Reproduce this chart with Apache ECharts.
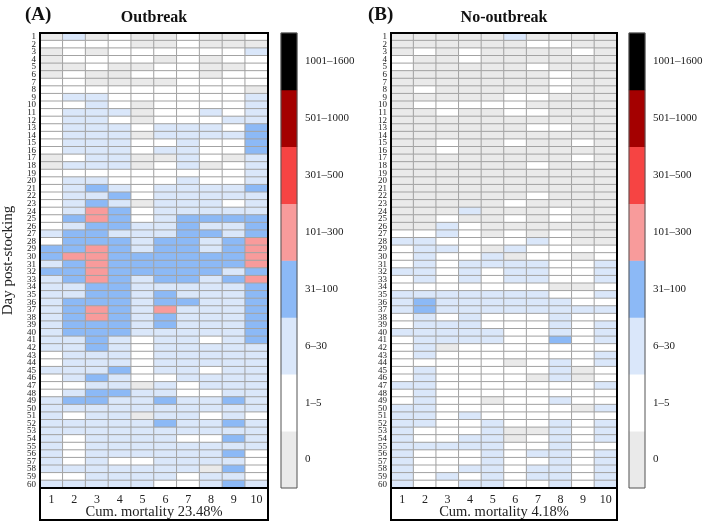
<!DOCTYPE html>
<html>
<head>
<meta charset="utf-8">
<script src="https://cdn.jsdelivr.net/npm/echarts@6/dist/echarts.min.js"></script>
<style>
  html, body { margin: 0; padding: 0; background: #fff; }
  #chart { width: 706px; height: 529px; }
</style>
</head>
<body>
<div id="chart"></div>
<script>
// mortality classes (index = class code used in the grids below)
const classLabels = ['0', '1–5', '6–30', '31–100', '101–300', '301–500', '501–1000', '1001–1600']
const tankLabels = ['1', '2', '3', '4', '5', '6', '7', '8', '9', '10']
const dayLabels = Array.from({ length: 60 }, (_, i) => String(i + 1))

// class code per day (row) and tank (column)
const outbreakClasses = [
  [0,2,0,1,0,0,1,0,0,1], [1,1,1,1,0,0,1,0,0,0], [0,1,0,1,1,1,1,1,1,2], [0,1,1,1,1,0,1,0,1,1],
  [0,0,1,0,0,1,1,0,0,1], [0,1,0,0,1,1,1,0,1,1], [1,1,0,0,0,0,1,1,1,1], [1,1,1,1,1,1,1,1,1,0],
  [1,2,2,1,1,1,1,1,1,2], [1,1,2,1,0,1,1,1,1,2], [1,2,2,2,0,1,1,2,1,2], [1,2,2,1,0,1,1,1,2,2],
  [1,2,2,2,1,2,2,2,1,3], [1,2,2,2,0,2,2,2,2,3], [1,2,2,2,1,1,2,1,1,3], [1,2,2,2,1,2,2,1,1,3],
  [0,1,2,2,0,0,2,1,0,2], [0,2,2,2,0,1,2,0,1,2], [1,1,1,1,1,1,1,1,1,2], [1,2,2,1,1,1,2,1,1,2],
  [1,2,3,2,1,2,2,2,2,3], [1,2,2,3,1,2,2,2,2,2], [1,2,3,2,0,2,2,2,1,2], [1,2,4,3,1,2,2,2,2,2],
  [1,3,4,3,1,2,3,3,3,3], [1,2,3,3,2,2,3,2,2,3], [2,3,3,2,2,2,3,3,2,3], [1,3,3,3,2,3,3,2,3,4],
  [3,3,4,3,2,3,3,2,3,4], [3,4,4,3,3,3,3,3,3,4], [2,3,4,3,3,3,3,3,3,4], [3,3,4,3,3,3,3,3,2,3],
  [2,3,4,3,2,3,3,2,3,4], [2,2,3,3,2,2,2,2,2,3], [2,2,3,3,2,3,2,2,2,3], [2,3,3,3,2,3,3,2,2,3],
  [2,3,4,3,2,4,2,2,2,3], [2,3,4,3,2,3,2,2,2,3], [2,3,3,3,2,3,2,2,2,3], [2,3,3,3,2,2,2,2,2,3],
  [2,2,3,2,1,2,2,1,2,3], [2,2,3,2,1,2,2,2,2,2], [1,2,2,2,1,2,2,2,2,2], [1,2,2,2,1,2,2,2,2,2],
  [2,2,2,3,1,2,2,1,2,2], [1,2,3,2,1,1,2,2,2,2], [1,1,2,2,0,2,1,2,2,2], [1,2,3,3,2,2,1,1,2,2],
  [2,3,3,2,2,3,2,2,3,2], [2,2,2,2,2,2,2,2,2,2], [2,1,2,2,0,2,2,1,2,1], [2,2,2,2,2,3,2,2,3,2],
  [2,2,2,2,2,2,2,2,2,2], [2,1,2,2,2,2,1,1,3,2], [2,1,2,2,2,2,2,2,2,2], [2,1,2,2,2,2,2,2,3,1],
  [2,1,2,1,1,2,2,2,2,1], [2,2,2,2,2,2,2,0,3,1], [1,1,2,2,2,2,1,2,2,1], [2,2,2,2,2,1,1,2,3,2]
]

const noOutbreakClasses = [
  [0,0,0,0,0,2,0,0,0,0], [0,0,0,0,0,0,1,1,0,0], [0,1,0,1,0,0,0,0,1,0], [1,0,0,1,0,0,0,0,0,0],
  [1,0,0,0,0,0,1,0,0,0], [0,0,0,0,0,0,0,1,0,0], [0,0,0,0,0,0,0,1,0,0], [0,1,0,0,0,0,0,1,0,0],
  [0,0,0,0,0,1,1,0,0,0], [0,1,1,1,1,1,0,0,0,0], [0,0,1,0,0,1,1,0,0,0], [0,0,0,0,0,0,0,0,0,0],
  [0,0,0,0,0,0,1,1,0,0], [0,0,0,0,0,0,0,0,0,0], [0,0,1,0,0,1,0,0,1,0], [0,0,1,0,0,0,0,0,0,0],
  [0,0,0,0,0,0,0,0,1,0], [0,0,0,0,0,0,1,0,0,0], [0,0,0,0,0,0,0,0,0,0], [0,0,0,0,0,0,0,0,0,0],
  [0,0,0,0,0,0,0,0,0,0], [0,0,0,0,0,0,1,0,0,0], [0,0,0,0,0,1,0,0,0,0], [0,0,0,2,0,0,0,1,0,0],
  [0,0,1,0,0,1,0,1,0,0], [0,0,2,1,0,0,0,0,0,0], [1,1,2,1,0,1,0,1,0,0], [2,2,1,1,1,1,2,1,0,0],
  [1,2,2,1,0,2,1,1,1,1], [1,2,1,1,2,0,1,1,0,1], [1,2,1,2,2,2,2,1,1,2], [2,2,1,2,1,2,2,1,1,2],
  [1,2,1,2,1,2,2,1,1,2], [1,1,1,1,1,1,1,0,0,1], [2,2,2,2,2,2,2,1,1,2], [2,3,2,2,2,2,2,2,1,1],
  [2,3,2,2,2,2,2,2,2,2], [1,2,1,2,1,1,1,2,1,1], [1,2,2,2,1,1,1,2,1,2], [2,2,2,2,2,1,1,2,1,2],
  [1,2,2,2,2,1,1,3,1,2], [1,2,0,1,1,1,1,1,1,1], [1,2,1,1,1,1,1,1,1,2], [1,1,1,1,1,0,1,2,1,2],
  [1,2,1,1,1,1,1,2,0,1], [1,2,1,1,1,1,0,2,0,1], [2,2,1,1,1,1,1,1,1,2], [1,2,1,1,1,1,1,1,1,1],
  [1,2,1,1,0,1,1,2,1,1], [2,2,1,1,1,1,1,1,0,2], [2,2,1,2,1,1,1,1,1,1], [2,2,1,1,2,1,1,2,1,2],
  [2,1,1,1,2,0,0,2,1,2], [2,1,1,2,2,0,1,2,1,2], [2,2,2,2,2,1,1,2,1,1], [2,1,1,1,2,1,2,2,1,2],
  [2,1,1,1,2,1,1,2,1,2], [2,1,1,2,2,1,2,2,1,2], [2,1,2,1,2,1,2,2,1,2], [2,1,1,2,2,1,1,2,1,2]
]

const classColors = ['#eaeaea', '#ffffff', '#dae7fa', '#8cb9f6', '#f89b9b', '#f64443', '#a40000', '#000000']

const FONT = 'Liberation Serif'
const TOP = 33
const CELL_H = 455
const STRIP_H = 32
const CB_W = 16

const panels = [
  { tag: '(A)', tagX: 25, title: 'Outbreak', left: 40, width: 228, cbLeft: 281,
    mortality: 'Cum. mortality 23.48%', rows: outbreakClasses, yName: 'Day post-stocking' },
  { tag: '(B)', tagX: 368, title: 'No-outbreak', left: 391, width: 226, cbLeft: 629,
    mortality: 'Cum. mortality 4.18%', rows: noOutbreakClasses, yName: '' }
]

const toCells = rows => {
  const out = []
  rows.forEach((row, r) => row.forEach((v, c) => out.push([c, r, v])))
  return out
}

const grid = [], xAxis = [], yAxis = [], series = [], graphic = []

panels.forEach(p => {
  const g = grid.length
  grid.push({ left: p.left, top: TOP, width: p.width, height: CELL_H })
  grid.push({ left: p.cbLeft, top: TOP, width: CB_W, height: CELL_H })

  xAxis.push({
    type: 'category', gridIndex: g, data: tankLabels, position: 'bottom',
    axisLine: { show: false }, axisTick: { show: false },
    axisLabel: { fontFamily: FONT, fontSize: 12, color: '#222', margin: 6 },
    name: p.mortality, nameLocation: 'middle', nameGap: 17, nameMoveOverlap: false,
    nameTextStyle: { fontFamily: FONT, fontSize: 14.5, color: '#222', verticalAlign: 'top' }
  })
  xAxis.push({ type: 'category', gridIndex: g + 1, data: ['k'], show: false })

  const y0 = yAxis.length
  yAxis.push({
    type: 'category', gridIndex: g, data: dayLabels, inverse: true,
    axisLine: { show: false }, axisTick: { show: false },
    axisLabel: { interval: 0, fontFamily: FONT, fontSize: 9, color: '#222', margin: 4 },
    name: p.yName, nameLocation: 'middle', nameGap: 24, nameRotate: 90, nameMoveOverlap: false,
    nameTextStyle: { fontFamily: FONT, fontSize: 15, color: '#222' }
  })
  yAxis.push({
    type: 'category', gridIndex: g + 1, data: classLabels, position: 'right',
    axisLine: { show: false },
    axisTick: { show: false },
    axisLabel: { fontFamily: FONT, fontSize: 11, color: '#222', margin: 8 }
  })
  yAxis.push({
    type: 'category', gridIndex: g + 1, data: classLabels, position: 'left',
    axisLine: { show: false },
    axisTick: { show: true, alignWithLabel: true, inside: true, length: 3, lineStyle: { color: '#333' } },
    axisLabel: { show: false }
  })

  series.push({
    type: 'heatmap', xAxisIndex: g, yAxisIndex: y0, data: toCells(p.rows),
    itemStyle: { borderColor: '#a3a3a3', borderWidth: 1 },
    emphasis: { disabled: true }
  })
  series.push({
    type: 'heatmap', xAxisIndex: g + 1, yAxisIndex: y0 + 1,
    data: classLabels.map((_, k) => [0, k, k]),
    emphasis: { disabled: true }, z: 1
  })

  graphic.push(
    { type: 'text', left: p.tagX, top: 6,
      style: { text: p.tag, font: 'bold 19px "' + FONT + '"', fill: '#111' } },
    { type: 'text', x: p.left + p.width / 2, y: 18,
      style: { text: p.title, font: 'bold 16px "' + FONT + '"', fill: '#111',
               textAlign: 'center', textVerticalAlign: 'middle' } },
    { type: 'rect', z: 100,
      shape: { x: p.left, y: TOP, width: p.width, height: CELL_H },
      style: { fill: 'none', stroke: '#000', lineWidth: 2 } },
    { type: 'rect', z: 100,
      shape: { x: p.left, y: TOP, width: p.width, height: CELL_H + STRIP_H },
      style: { fill: 'none', stroke: '#000', lineWidth: 2 } },
    { type: 'rect', z: 100,
      shape: { x: p.cbLeft, y: TOP, width: CB_W, height: CELL_H },
      style: { fill: 'none', stroke: '#555', lineWidth: 1 } }
  )
})

const chart = echarts.init(document.getElementById('chart'), null, { renderer: 'canvas' })
chart.setOption({
  animation: false,
  backgroundColor: '#fff',
  grid, xAxis, yAxis, series, graphic,
  visualMap: {
    type: 'piecewise', show: false, dimension: 2,
    seriesIndex: series.map((_, i) => i),
    pieces: classColors.map((color, k) => ({ value: k, color }))
  }
})
</script>
</body>
</html>
